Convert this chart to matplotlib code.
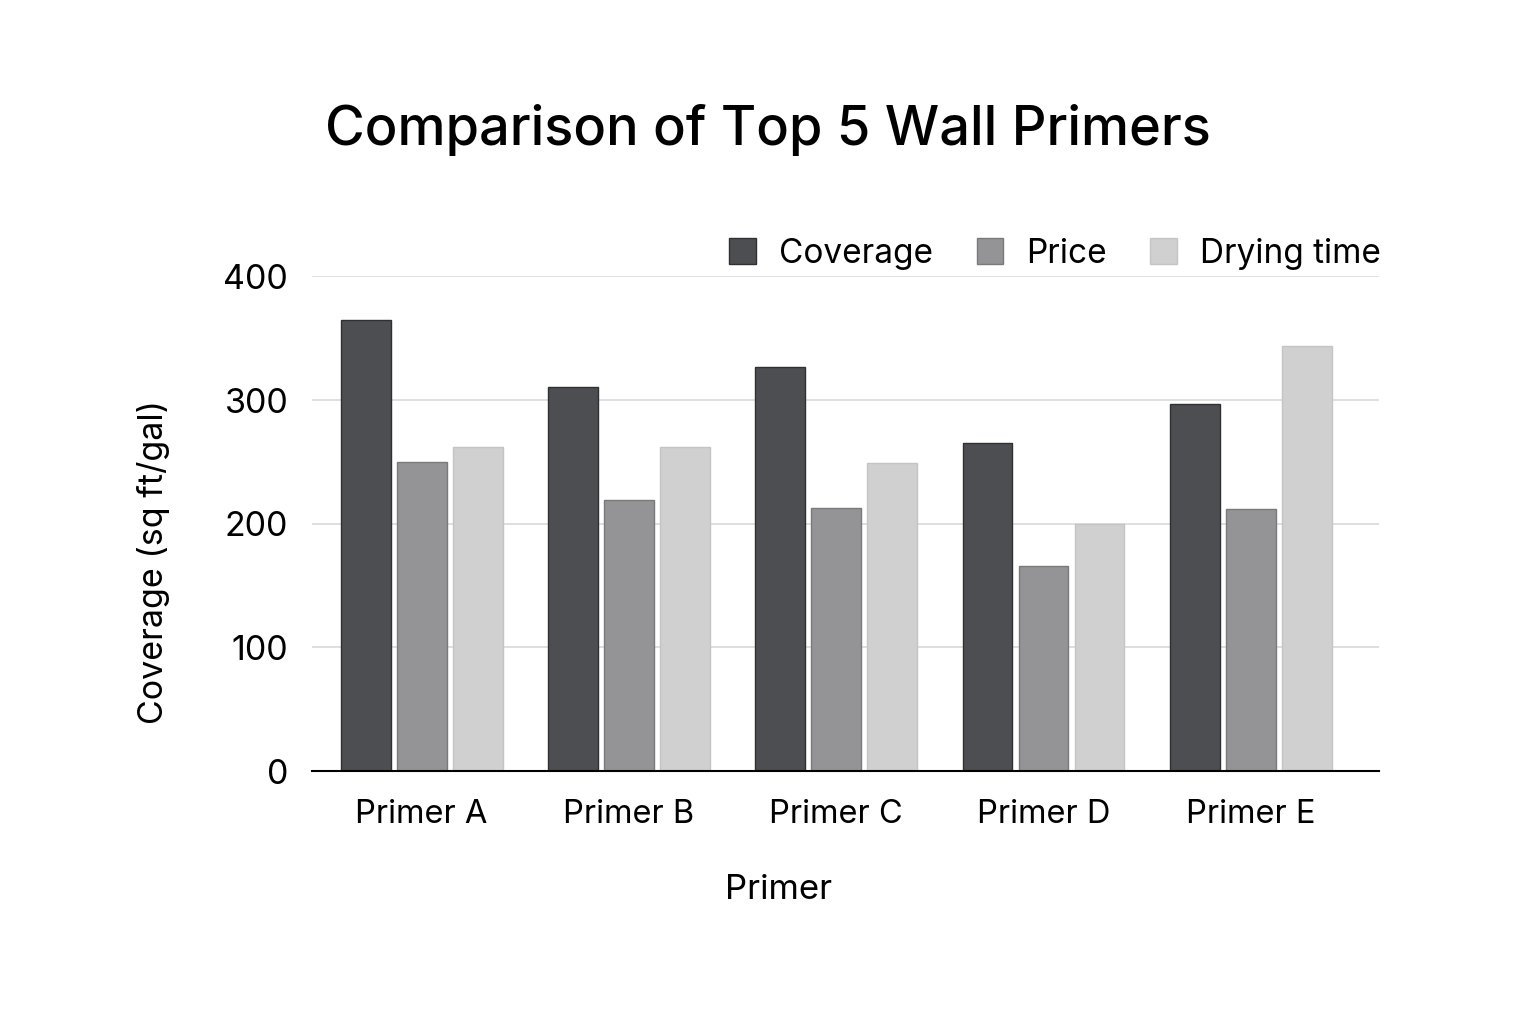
import numpy as np
import matplotlib.pyplot as plt

plt.rcParams['font.family'] = ['Inter', 'DejaVu Sans']

primers = ["Primer A", "Primer B", "Primer C", "Primer D", "Primer E"]
coverage = [365, 311, 327, 265, 297]
price = [250, 219, 213, 166, 212]
drying = [262, 262, 249, 200, 344]
yticks = [0, 100, 200, 300, 400]

colors = ['#4c4e51', '#949497', '#d0d0d0']
edges = ['#2e3033', '#7a7a7d', '#c4c4c4']

fig = plt.figure(figsize=(15.36, 10.24), dpi=100)
ax = fig.add_axes([0.203, 0.247, 0.695, 0.483])

x = np.arange(len(primers))
w = 0.24
off = 0.27
series = [("Coverage", coverage), ("Price", price), ("Drying time", drying)]
for i, (name, vals) in enumerate(series):
    ax.bar(x + (i - 1) * off, vals, width=w, color=colors[i],
           edgecolor=edges[i], linewidth=1, label=name, zorder=3)

ax.set_xlim(-0.53, 4.62)
ax.set_ylim(0, 400)
ax.set_yticks(yticks)
ax.set_xticks(x)
ax.set_xticklabels(primers)
ax.grid(axis='y', color='#d9d9d9', linewidth=1.2, zorder=0)
ax.tick_params(axis='y', length=0, labelsize=24.5, pad=17)
ax.tick_params(axis='x', length=0, labelsize=23.5, pad=20)
for s in ['top', 'right', 'left']:
    ax.spines[s].set_visible(False)
ax.spines['bottom'].set_linewidth(1.5)
ax.spines['bottom'].set_zorder(4)

# axis titles placed on the figure to match the reference offsets
fig.text(0.1, 0.451, "Coverage (sq ft/gal)", rotation=90, ha='center',
         va='center', fontsize=24.5)
fig.text(0.507, 0.131, "Primer", ha='center', va='center', fontsize=25)

fig.text(0.5, 0.873, "Comparison of Top 5 Wall Primers", ha='center',
         va='center', fontsize=39, fontweight='medium')

ax.legend(loc='lower right', bbox_to_anchor=(1.03, 0.953), ncol=3,
          frameon=False, fontsize=24, handlelength=0.8, handleheight=0.8,
          columnspacing=1.3, handletextpad=0.7)

fig.savefig("out.png", dpi=100)
